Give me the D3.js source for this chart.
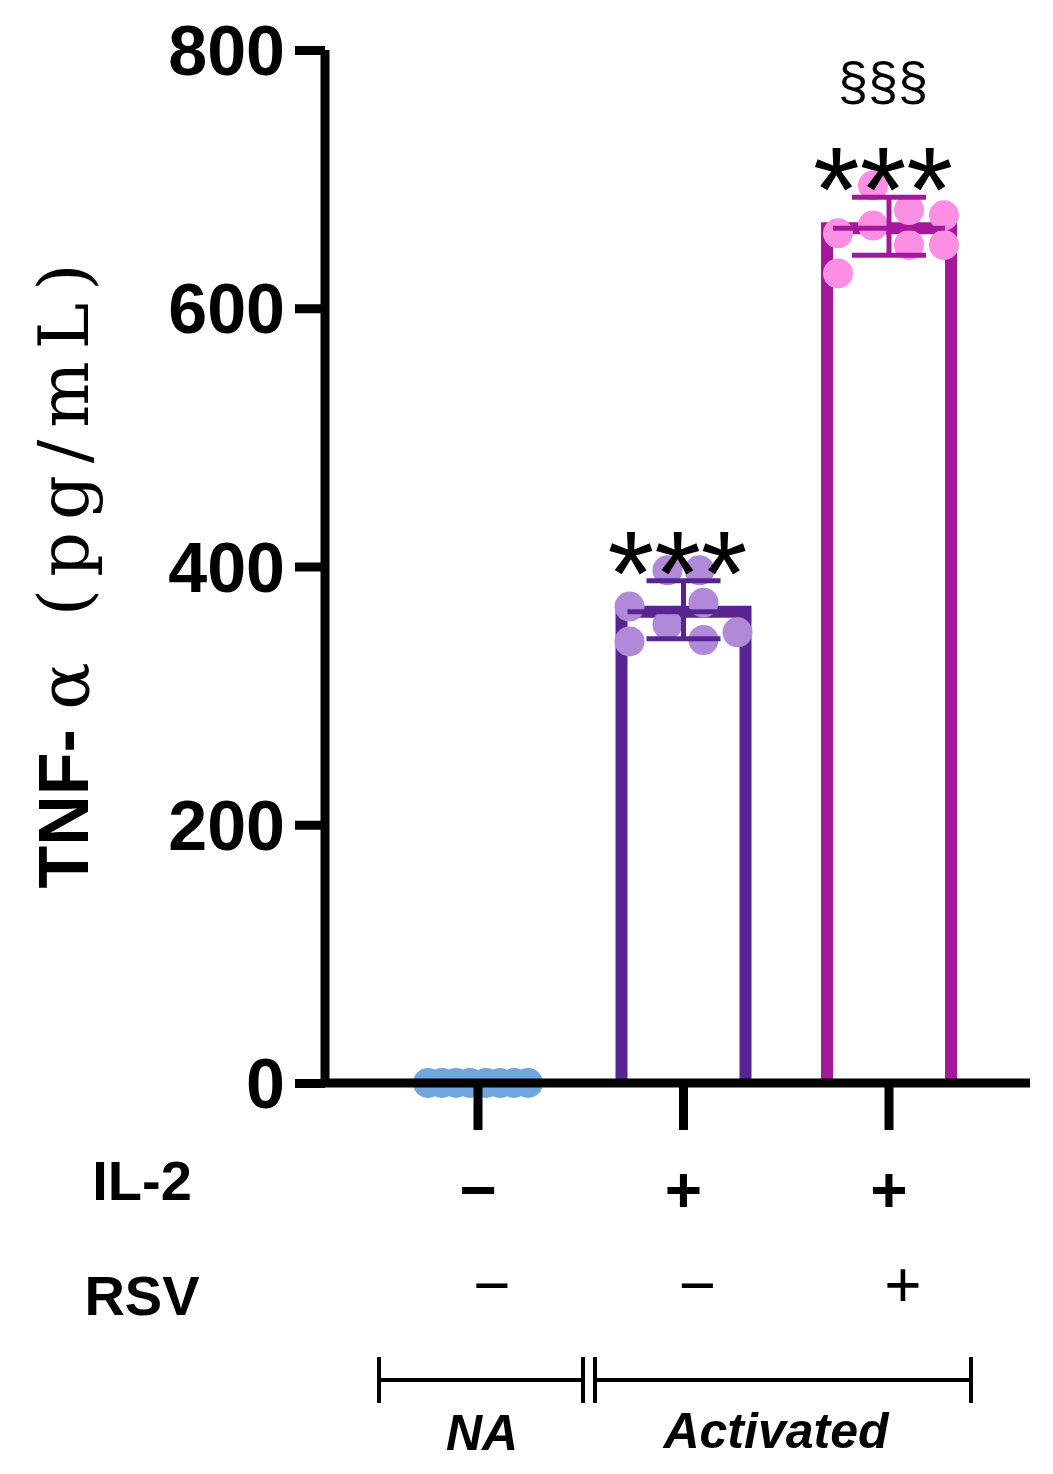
<!DOCTYPE html>
<html><head><meta charset="utf-8">
<script src="https://cdn.jsdelivr.net/npm/d3@7"></script>
<style>body{margin:0;background:#fff}text{font-family:Arial,"Liberation Sans",sans-serif}</style>
</head><body><svg id="c" width="1053" height="1474"></svg>
<script>
const groups=["NA","IL2","IL2RSV"];
const means=[0,365,662];
const errLo=[0,344,641];
const errHi=[0,389,686];
const pts=[[0,0,0,0,0,0,0,0],[369,397,397,372,349,342,355,343],[658,695,664,676,672,627,649,649]];
const stars=["","***","***"];
const colors=["#1f4e8c","#582491","#a5189c"];
const ptColors=["#6fa6dd","#b08ad8","#fc8ee3"];
const yTicks=[0,200,400,600,800];
const il2=["−","+","+"],rsv=["−","−","+"];
const svg=d3.select("#c");
const y=d3.scaleLinear().domain([0,800]).range([1083,50]);
const x=d3.scalePoint().domain(groups).range([478,889]);
const bw=124;
groups.forEach((g,i)=>{
  if(i===0)return;
  const cx=x(g);
  svg.append("path").attr("d",`M${cx-bw/2},${y(0)}V${y(means[i])}H${cx+bw/2}V${y(0)}`)
    .attr("fill","none").attr("stroke",colors[i]).attr("stroke-width",12);
});
const pxOff=[[-50,-36,-22,-8,8,22,36,50],[-54,-16,16,20,54,-54,-16,20],[-51,-16,-16,20,55,-51,20,55]];
groups.forEach((g,i)=>{
  pts[i].forEach((v,j)=>svg.append("circle").attr("cx",x(g)+pxOff[i][j]).attr("cy",y(v)).attr("r",15).attr("fill",ptColors[i]));
});
groups.forEach((g,i)=>{
  const cx=x(g);
  if(i===0){svg.append("line").attr("x1",cx-36).attr("x2",cx+36).attr("y1",y(0)).attr("y2",y(0)).attr("stroke",colors[0]).attr("stroke-width",4);return;}
  const c=colors[i];
  svg.append("line").attr("x1",cx-56).attr("x2",cx+56).attr("y1",y(means[i])).attr("y2",y(means[i])).attr("stroke",c).attr("stroke-width",5);
  svg.append("line").attr("x1",cx).attr("x2",cx).attr("y1",y(errLo[i])).attr("y2",y(errHi[i])).attr("stroke",c).attr("stroke-width",5);
  [errLo[i],errHi[i]].forEach(v=>svg.append("line").attr("x1",cx-37).attr("x2",cx+37).attr("y1",y(v)).attr("y2",y(v)).attr("stroke",c).attr("stroke-width",5));
  svg.append("text").attr("x",cx-6).attr("y",y(errHi[i])+34).attr("text-anchor","middle").attr("font-size",120).text(stars[i]);
});
svg.append("text").attr("x",x("IL2RSV")-6).attr("y",100).attr("text-anchor","middle").attr("font-size",54).text("§§§");
const ya=svg.append("g").attr("transform","translate(325,0)").call(d3.axisLeft(y).tickValues(yTicks).tickSize(30).tickPadding(10).tickFormat(d3.format("d")));
ya.selectAll("path,line").attr("stroke","#000").attr("stroke-width",9);
ya.select("path").attr("d","M0,50V1083");
ya.selectAll("text").attr("font-size",70).attr("font-weight","bold").attr("fill","#000").attr("dy","0.35em");
svg.append("line").attr("x1",325).attr("x2",1030).attr("y1",1083).attr("y2",1083).attr("stroke","#000").attr("stroke-width",9);
groups.forEach(g=>svg.append("line").attr("x1",x(g)).attr("x2",x(g)).attr("y1",1083).attr("y2",1130).attr("stroke","#000").attr("stroke-width",9));
const yl=svg.append("text").attr("transform","translate(88,570) rotate(-90)").attr("text-anchor","middle").attr("font-size",70);
yl.append("tspan").attr("font-weight","bold").text("TNF- ");
yl.append("tspan").attr("font-family","DejaVu Serif").attr("letter-spacing",12).text("α (pg/mL)");
svg.append("text").attr("x",142).attr("y",1200).attr("text-anchor","middle").attr("font-size",56).attr("font-weight","bold").text("IL-2");
svg.append("text").attr("x",142).attr("y",1315).attr("text-anchor","middle").attr("font-size",56).attr("font-weight","bold").text("RSV");
groups.forEach((g,i)=>{
  svg.append("text").attr("x",x(g)).attr("y",1212).attr("text-anchor","middle").attr("font-size",64).attr("font-weight","bold").text(il2[i]);
  svg.append("text").attr("x",x(g)+14).attr("y",1307).attr("text-anchor","middle").attr("font-size",64).text(rsv[i]);
});
function br(x1,x2){svg.append("path").attr("d",`M${x1},1357V1403M${x1},1380H${x2}M${x2},1357V1403`).attr("stroke","#000").attr("stroke-width",4).attr("fill","none");}
br(379,583);br(595,971);
svg.append("text").attr("x",482).attr("y",1450).attr("text-anchor","middle").attr("font-size",50).attr("font-weight","bold").attr("font-style","italic").text("NA");
svg.append("text").attr("x",776).attr("y",1448).attr("text-anchor","middle").attr("font-size",50).attr("font-weight","bold").attr("font-style","italic").text("Activated");
</script></body></html>
